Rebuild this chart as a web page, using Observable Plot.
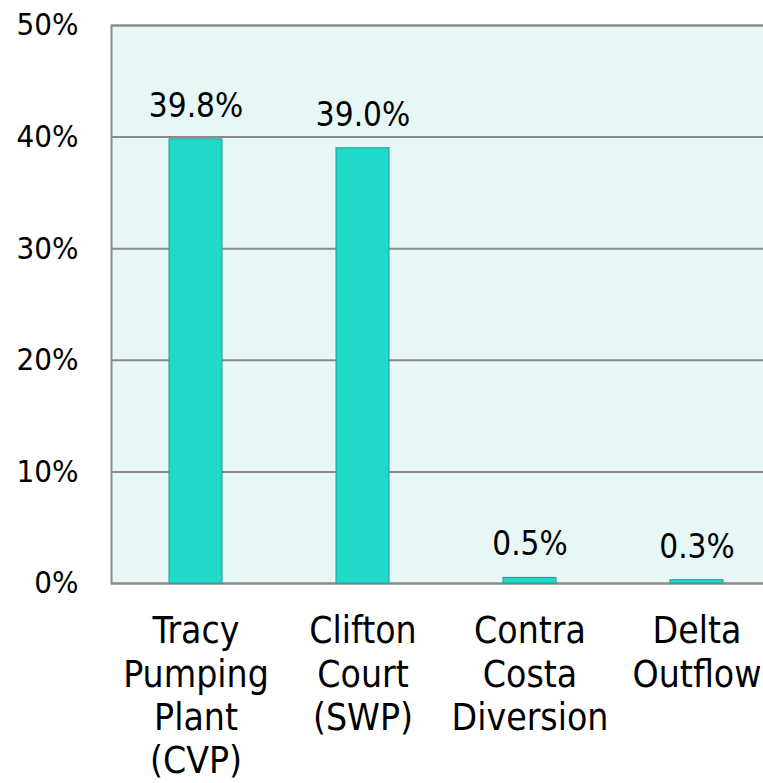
<!DOCTYPE html>
<html>
<head>
<meta charset="utf-8">
<script src="https://cdn.jsdelivr.net/npm/d3@7"></script>
<script src="https://cdn.jsdelivr.net/npm/@observablehq/plot@0.6"></script>
<style>
  html, body { margin: 0; padding: 0; background: #ffffff; overflow: hidden; }
  #chart { width: 763px; height: 783px; overflow: hidden; }
  #chart svg { display: block; max-width: none !important; }
</style>
</head>
<body>
<div id="chart"></div>
<script>
const categories = ["Tracy\nPumping\nPlant\n(CVP)", "Clifton\nCourt\n(SWP)", "Contra\nCosta\nDiversion", "Delta\nOutflow"];
const values = [39.8, 39.0, 0.5, 0.3];
const valueLabels = ["39.8%", "39.0%", "0.5%", "0.3%"];
const yTicks = [0, 10, 20, 30, 40, 50];
const yTickLabels = ["0%", "10%", "20%", "30%", "40%", "50%"];

const data = categories.map((c, i) => ({cat: c, value: values[i], label: valueLabels[i]}));
const font = "'DejaVu Sans Condensed', 'DejaVu Sans', sans-serif";

const chart = Plot.plot({
  width: 781,
  height: 783,
  marginLeft: 111,
  marginRight: 0,
  marginTop: 25,
  marginBottom: 200,
  style: {fontFamily: font, background: "transparent", color: "#000"},
  x: {domain: categories, paddingInner: 0.68, paddingOuter: 0.34, label: null, axis: null},
  y: {domain: [0, 50], label: null, axis: null},
  marks: [
    Plot.frame({fill: "#e6f7f6", stroke: null}),
    Plot.ruleY(yTicks, {stroke: "#8a8a8a", strokeWidth: 2, strokeOpacity: 1}),
    Plot.frame({stroke: "#8a8a8a", strokeWidth: 2, fill: null}),
    Plot.barY(data, {x: "cat", y: "value", fill: "#20d9ca", stroke: "#1f9d92", strokeWidth: 1}),
    Plot.text(data, {x: "cat", y: "value", text: "label", dy: -33, fontSize: 33, fill: "#000"}),
    Plot.axisY({ticks: yTicks, tickFormat: (d) => yTickLabels[yTicks.indexOf(d)], tickSize: 0, tickPadding: 33, fontSize: 31, label: null}),
    Plot.text(data, {x: "cat", text: "cat", frameAnchor: "bottom", lineAnchor: "top", dy: 29, fontSize: 37, lineHeight: 1.17, fill: "#000"})
  ]
});
document.getElementById("chart").appendChild(chart);
</script>
</body>
</html>
